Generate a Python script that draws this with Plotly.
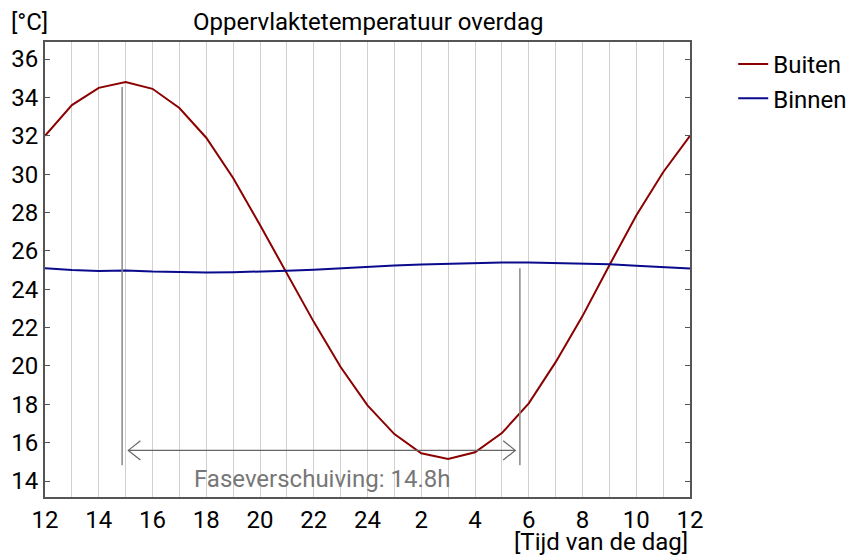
import plotly.graph_objects as go

# hours since 12:00, one point per hour
hours = list(range(25))
tick_vals = list(range(0, 25, 2))
tick_text = ["12", "14", "16", "18", "20", "22", "24", "2", "4", "6", "8", "10", "12"]

buiten = [32.0, 33.6, 34.5, 34.8, 34.45, 33.45, 31.9, 29.8, 27.35, 24.8, 22.3, 19.95, 17.95,
          16.45, 15.45, 15.15, 15.5, 16.5, 18.05, 20.2, 22.6, 25.25, 27.85, 30.1, 32.0]
binnen = [25.1, 25.0, 24.95, 24.98, 24.92, 24.89, 24.88, 24.89, 24.92, 24.96, 25.02, 25.1, 25.17,
          25.24, 25.29, 25.33, 25.36, 25.39, 25.39, 25.37, 25.34, 25.3, 25.22, 25.14, 25.08]

# phase shift markers
piek_buiten_x, piek_buiten_y = 2.87, 34.55
piek_binnen_x, piek_binnen_y = 17.67, 25.1
marker_bottom = 14.83
pijl_y = 15.6
pijl_links, pijl_rechts = 3.1, 17.5
fase_label = "Faseverschuiving: 14.8h"

FONT = "Roboto, sans-serif"
SIZE = 24
GRAY = "#888888"
AXIS = "#555555"

fig = go.Figure()
fig.add_trace(go.Scatter(x=hours, y=buiten, mode="lines", name="Buiten",
                         line=dict(color="#8B0000", width=2)))
fig.add_trace(go.Scatter(x=hours, y=binnen, mode="lines", name="Binnen",
                         line=dict(color="#0A0A8C", width=2)))

shapes = [
    dict(type="line", x0=piek_buiten_x, x1=piek_buiten_x, y0=marker_bottom, y1=piek_buiten_y,
         line=dict(color=GRAY, width=1.5)),
    dict(type="line", x0=piek_binnen_x, x1=piek_binnen_x, y0=marker_bottom, y1=piek_binnen_y,
         line=dict(color=GRAY, width=1.5)),
    dict(type="line", x0=pijl_links, x1=pijl_rechts, y0=pijl_y, y1=pijl_y,
         line=dict(color="#666666", width=1.2)),
    dict(type="path",
         path=f"M {pijl_links + 0.45},{pijl_y + 0.5} L {pijl_links},{pijl_y} L {pijl_links + 0.45},{pijl_y - 0.5}",
         line=dict(color="#666666", width=1.2)),
    dict(type="path",
         path=f"M {pijl_rechts - 0.45},{pijl_y + 0.5} L {pijl_rechts},{pijl_y} L {pijl_rechts - 0.45},{pijl_y - 0.5}",
         line=dict(color="#666666", width=1.2)),
]

annotations = [
    dict(text=fase_label, x=(pijl_links + pijl_rechts) / 2, y=14.1, xref="x", yref="y",
         showarrow=False, font=dict(size=SIZE, color="#777777", family=FONT)),
    dict(text="[°C]", x=-0.056, y=1.044, xref="paper", yref="paper", xanchor="left",
         yanchor="middle", showarrow=False, font=dict(size=SIZE, color="black", family=FONT)),
    dict(text="Oppervlaktetemperatuur overdag", x=0.5, y=1.044, xref="paper", yref="paper",
         xanchor="center", yanchor="middle", showarrow=False,
         font=dict(size=SIZE, color="black", family=FONT)),
    dict(text="[Tijd van de dag]", x=1.0, y=-0.098, xref="paper", yref="paper",
         xanchor="right", yanchor="middle", showarrow=False,
         font=dict(size=SIZE, color="black", family=FONT)),
]

fig.update_layout(
    width=851, height=555,
    margin=dict(l=45, r=161, t=42, b=58, autoexpand=False),
    paper_bgcolor="white",
    plot_bgcolor="white",
    font=dict(family=FONT, size=SIZE, color="black"),
    shapes=shapes,
    annotations=annotations,
    legend=dict(x=1.067, y=1.0, xanchor="left", yanchor="top",
                font=dict(size=SIZE, family=FONT), tracegroupgap=2),
)
fig.update_xaxes(
    range=[0, 24], tickmode="array", tickvals=tick_vals, ticktext=tick_text,
    showgrid=True, gridcolor="#d0d0d0", gridwidth=1,
    minor=dict(dtick=1, showgrid=True, gridcolor="#d0d0d0", gridwidth=1),
    showline=True, linecolor=AXIS, linewidth=2, mirror=True,
    ticks="", zeroline=False, automargin=False,
)
fig.update_yaxes(
    range=[13.17, 36.89], tickmode="array", tickvals=list(range(14, 37, 2)),
    showgrid=False, showline=True, linecolor=AXIS, linewidth=2, mirror="ticks",
    ticks="inside", ticklen=5, tickcolor=AXIS, zeroline=False, automargin=False,
)

fig.write_html("out.html", config={"displayModeBar": False},
               post_script="document.body.style.margin = '0';")
